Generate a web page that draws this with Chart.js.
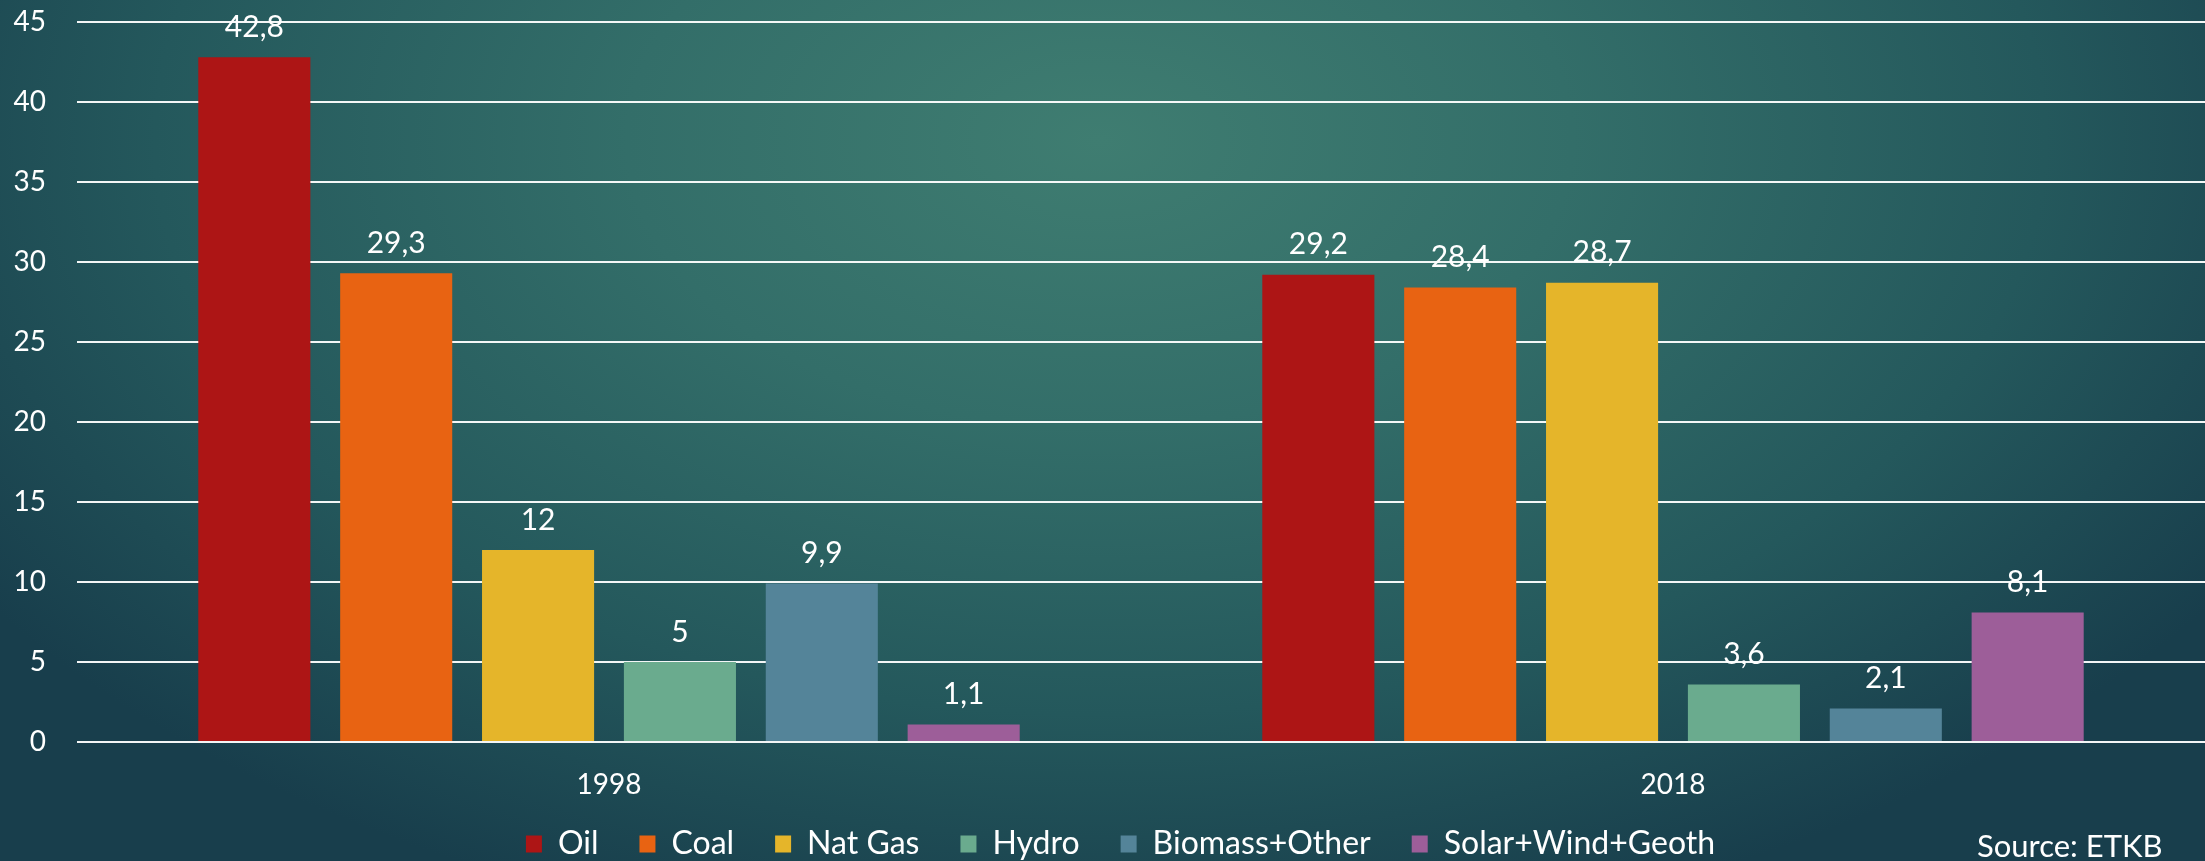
<!DOCTYPE html>
<html>
<head>
<meta charset="utf-8">
<script src="https://cdn.jsdelivr.net/npm/chart.js@4"></script>
<style>
  html, body {
    margin: 0;
    padding: 0;
    width: 2205px;
    height: 861px;
    overflow: hidden;
  }
  body {
    background: radial-gradient(ellipse 1350px 820px at 1100px 140px, #3f7d71 0%, #336e69 35%, #24585c 70%, #183e4c 100%);
    font-family: "Lato", sans-serif;
  }
  #wrap {
    position: absolute;
    left: 0;
    top: 0;
    width: 2205px;
    height: 861px;
  }
  #source {
    position: absolute;
    left: 1977px;
    top: 828px;
    color: #ffffff;
    font-size: 31px;
    line-height: 34px;
    white-space: nowrap;
  }
</style>
</head>
<body>
<div id="wrap"><canvas id="chart"></canvas></div>
<div id="source">Source: ETKB</div>
<script>
// categories and series
const years = ["1998", "2018"];
const oil = [42.8, 29.2];
const coal = [29.3, 28.4];
const natGas = [12, 28.7];
const hydro = [5, 3.6];
const biomass = [9.9, 2.1];
const solar = [1.1, 8.1];
const seriesNames = ["Oil", "Coal", "Nat Gas", "Hydro", "Biomass+Other", "Solar+Wind+Geoth"];
const seriesColors = ["#ad1515", "#e86312", "#e5b52a", "#6aab8e", "#548499", "#9d5e99"];
const yTicks = [0, 5, 10, 15, 20, 25, 30, 35, 40, 45];

const FONT = "Lato, sans-serif";

// value labels above bars, decimal comma
const valueLabels = {
  id: "valueLabels",
  afterDatasetsDraw(chart) {
    const ctx = chart.ctx;
    ctx.save();
    ctx.fillStyle = "#ffffff";
    ctx.font = "30px " + FONT;
    ctx.textAlign = "center";
    ctx.textBaseline = "middle";
    chart.data.datasets.forEach((ds, i) => {
      chart.getDatasetMeta(i).data.forEach((bar, j) => {
        const txt = String(ds.data[j]).replace(".", ",");
        ctx.fillText(txt, bar.x, bar.y - 30);
      });
    });
    ctx.restore();
  }
};

// nudge the legend: a bit up and to the right
const legendShift = {
  id: "legendShift",
  afterLayout(chart) {
    const lg = chart.legend;
    if (!lg) return;
    lg.top -= 18;
    lg.bottom -= 18;
    lg.left += 18;
    lg.right += 18;
  }
};

const allSeries = [oil, coal, natGas, hydro, biomass, solar];

new Chart(document.getElementById("chart"), {
  type: "bar",
  data: {
    labels: years,
    datasets: allSeries.map((vals, i) => ({
      label: seriesNames[i],
      data: vals,
      backgroundColor: seriesColors[i],
      borderWidth: 0,
      categoryPercentage: 0.8,
      barPercentage: 0.79
    }))
  },
  options: {
    responsive: true,
    maintainAspectRatio: false,
    devicePixelRatio: 1,
    animation: false,
    layout: {
      padding: { top: 22, left: 0, right: 0, bottom: -27 }
    },
    plugins: {
      tooltip: { enabled: false },
      legend: {
        position: "bottom",
        labels: {
          color: "#ffffff",
          boxWidth: 16,
          boxHeight: 17,
          padding: 41,
          font: { family: FONT, size: 32 }
        }
      }
    },
    scales: {
      x: {
        grid: { display: false },
        border: { display: false },
        ticks: {
          color: "#ffffff",
          padding: 18,
          font: { family: FONT, size: 28 }
        },
        afterFit(s) { s.height = 63; s.paddingLeft = 0; s.paddingRight = 0; }
      },
      y: {
        min: 0,
        max: 45,
        afterBuildTicks(s) { s.ticks = yTicks.map(v => ({ value: v })); },
        grid: {
          color: "rgba(255,255,255,0.95)",
          lineWidth: 2,
          drawTicks: false
        },
        border: { display: false },
        ticks: {
          color: "#ffffff",
          padding: 31,
          font: { family: FONT, size: 28 }
        },
        afterFit(s) { s.width = 77; s.paddingTop = 0; s.paddingBottom = 0; }
      }
    }
  },
  plugins: [valueLabels, legendShift]
});
</script>
</body>
</html>
